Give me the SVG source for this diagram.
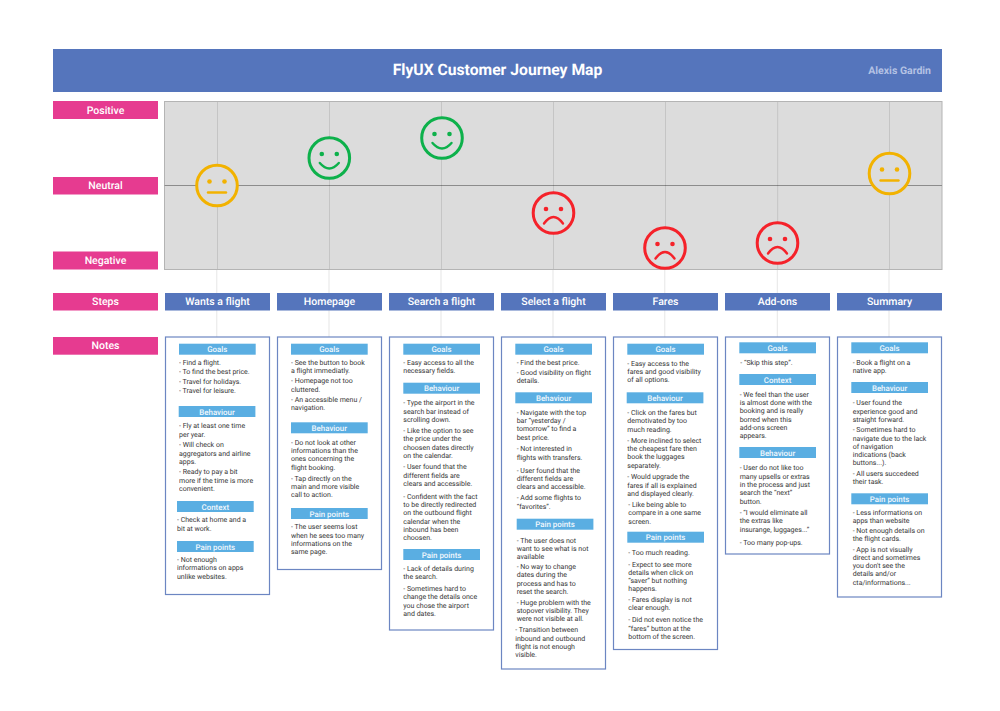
<svg xmlns="http://www.w3.org/2000/svg" width="1000" height="711" viewBox="0 0 1000 711">
<style>
text{font-family:Roboto,"Liberation Sans",sans-serif;text-rendering:geometricPrecision}
.hd{fill:#5575bc}
.lb{fill:#e63b90}
.st{fill:#5575bc}
.card{fill:#fff;stroke:#6c86c2;stroke-width:1.2}
.sec{fill:#5aaee2}
.w{fill:#fff;font-weight:500;text-anchor:middle;font-size:10.5px}
.s{fill:#f2f8fd;font-weight:500;text-anchor:middle;font-size:7.9px}
.t{fill:#333;font-size:7px;opacity:.98}
.conn{stroke:#000;stroke-opacity:.1;stroke-width:1;fill:none}
.eye{stroke:none;fill:currentColor}
.f{stroke-width:3;fill:#dcdcdc}
.m{stroke-width:2.4;fill:none;stroke-linecap:round}
.y{stroke:#f2b200;color:#f2b200}
.g{stroke:#0db14b;color:#0db14b}
.r{stroke:#f5222a;color:#f5222a}
</style>
<defs>
<g id="neu"><circle class="f" r="20.300"/><circle class="eye" cx="-7.500" cy="-4" r="2.300"/><circle class="eye" cx="7.500" cy="-4" r="2.300"/><path class="m" d="M-9 7H9"/></g>
<g id="hap"><circle class="f" r="20.300"/><circle class="eye" cx="-7.500" cy="-4" r="2.300"/><circle class="eye" cx="7.500" cy="-4" r="2.300"/><path class="m" d="M-9.500 5Q0 16 9.500 5"/></g>
<g id="sad"><circle class="f" r="20.300"/><circle class="eye" cx="-7.500" cy="-4" r="2.300"/><circle class="eye" cx="7.500" cy="-4" r="2.300"/><path class="m" d="M-9.500 10.500Q0 -2.500 9.500 10.500"/></g>
</defs>
<rect width="1000" height="711" fill="#fff"/>
<g id="header"><rect class="hd" x="53" y="49" width="889" height="43"/>
<text x="497.500" y="75" fill="#fff" font-size="15.700" font-weight="700" text-anchor="middle">FlyUX Customer Journey Map</text>
<text x="931" y="74" fill="#b4c2e4" font-size="10.500" font-weight="700" text-anchor="end">Alexis Gardin</text></g>
<g id="chart"><rect x="164.500" y="101.500" width="777.500" height="168" fill="#dcdcdc" stroke="#b4b4b4"/><path d="M164.500 185.500H942" stroke="#8c8c8c" stroke-width="1"/></g>
<g id="connectors" class="conn"><path d="M217.500 102V269M329.500 102V269M441.500 102V269M553.500 102V269M665.500 102V269M777.700 102V269M889.500 102V269M216.800 270V337M329 270V337M441 270V337M553 270V337M664.800 270V337M777.300 270V337M889 270V337"/></g>
<g id="row-labels">
<g id="label-positive"><rect class="lb" x="53" y="101" width="105" height="18"/><text class="w" x="105.500" y="113.700">Positive</text></g>
<g id="label-neutral"><rect class="lb" x="53" y="177" width="105" height="17.500"/><text class="w" x="105.500" y="189">Neutral</text></g>
<g id="label-negative"><rect class="lb" x="53" y="251.500" width="105" height="18"/><text class="w" x="105.500" y="264.200">Negative</text></g>
<g id="label-steps"><rect class="lb" x="53" y="293" width="105" height="17.500"/><text class="w" x="105.500" y="305">Steps</text></g>
<g id="label-notes"><rect class="lb" x="53" y="337" width="105" height="17.700"/><text class="w" x="105.500" y="349">Notes</text></g>
</g>
<g id="faces">
<use id="face-1" href="#neu" class="y" x="217" y="185.500"/>
<use id="face-2" href="#hap" class="g" x="329.300" y="158"/>
<use id="face-3" href="#hap" class="g" x="442" y="138"/>
<use id="face-4" href="#sad" class="r" x="553.500" y="213"/>
<use id="face-5" href="#sad" class="r" x="665" y="248"/>
<use id="face-6" href="#sad" class="r" x="777.500" y="243"/>
<use id="face-7" href="#neu" class="y" x="889.500" y="173.500"/>
</g>
<g id="steps">
<g id="step-1"><rect class="st" x="165" y="293" width="105" height="17.500"/><text class="w" x="217.500" y="305">Wants a flight</text></g>
<g id="step-2"><rect class="st" x="277" y="293" width="105" height="17.500"/><text class="w" x="329.500" y="305">Homepage</text></g>
<g id="step-3"><rect class="st" x="389" y="293" width="105" height="17.500"/><text class="w" x="441.500" y="305">Search a flight</text></g>
<g id="step-4"><rect class="st" x="501" y="293" width="105" height="17.500"/><text class="w" x="553.500" y="305">Select a flight</text></g>
<g id="step-5"><rect class="st" x="613" y="293" width="105" height="17.500"/><text class="w" x="665.500" y="305">Fares</text></g>
<g id="step-6"><rect class="st" x="725" y="293" width="105" height="17.500"/><text class="w" x="777.500" y="305">Add-ons</text></g>
<g id="step-7"><rect class="st" x="837" y="293" width="105" height="17.500"/><text class="w" x="889.500" y="305">Summary</text></g>
</g>
<g id="notes">
<g id="note-1"><rect class="card" x="165.500" y="337" width="104" height="257.500"/>
<rect class="sec" x="179" y="343.700" width="76.700" height="11"/><text class="s" x="217.300" y="352">Goals</text>
<g class="t"><text x="179" y="364.600">- Find a flight.</text><text x="179" y="374.300">- To find the best price.</text><text x="179" y="383.900">- Travel for holidays.</text><text x="179" y="393.300">- Travel for leisure.</text></g>
<rect class="sec" x="178.700" y="406" width="76.700" height="11"/><text class="s" x="217" y="414.500">Behaviour</text>
<g class="t"><text x="179" y="428.300">- Fly at least one time</text><text x="179" y="436.600">per year.</text><text x="179" y="447.300">- Will check on</text><text x="179" y="455.600">aggregators and airline</text><text x="179" y="463.900">apps.</text><text x="179" y="474.300">- Ready to pay a bit</text><text x="179" y="482.600">more if the time is more</text><text x="179" y="490.900">convenient.</text></g>
<rect class="sec" x="177" y="501" width="76.700" height="11"/><text class="s" x="215.300" y="509.500">Context</text>
<g class="t"><text x="177" y="522.300">- Check at home and a</text><text x="177" y="530.600">bit at work.</text></g>
<rect class="sec" x="177" y="541" width="76.700" height="11"/><text class="s" x="215.300" y="549.500">Pain points</text>
<g class="t"><text x="177" y="561.900">- Not enough</text><text x="177" y="570.300">informations on apps</text><text x="177" y="578.600">unlike websites.</text></g></g>
<g id="note-2"><rect class="card" x="277.500" y="337" width="104" height="232.500"/>
<rect class="sec" x="291" y="343.700" width="76.700" height="11"/><text class="s" x="329.300" y="352">Goals</text>
<g class="t"><text x="291" y="364.600">- See the button to book</text><text x="291" y="372.900">a flight immediatly.</text><text x="291" y="383.300">- Homepage not too</text><text x="291" y="391.600">cluttered.</text><text x="291" y="401.600">- An accessible menu /</text><text x="291" y="409.900">navigation.</text></g>
<rect class="sec" x="291" y="422.300" width="76.700" height="11"/><text class="s" x="329.300" y="431">Behaviour</text>
<g class="t"><text x="291" y="444.600">- Do not look at other</text><text x="291" y="452.900">informations than the</text><text x="291" y="461.300">ones concerning the</text><text x="291" y="469.600">flight booking.</text><text x="291" y="480.600">- Tap directly on the</text><text x="291" y="488.900">main and more visible</text><text x="291" y="497.300">call to action.</text></g>
<rect class="sec" x="291" y="508" width="76.700" height="11"/><text class="s" x="329.300" y="516.700">Pain points</text>
<g class="t"><text x="291" y="529.300">- The user seems lost</text><text x="291" y="537.600">when he sees too many</text><text x="291" y="545.900">informations on the</text><text x="291" y="554.300">same page.</text></g></g>
<g id="note-3"><rect class="card" x="389.500" y="337" width="104" height="293"/>
<rect class="sec" x="403.300" y="343.700" width="76.700" height="11"/><text class="s" x="441.600" y="352">Goals</text>
<g class="t"><text x="403.300" y="364.900">- Easy access to all the</text><text x="403.300" y="373.300">necessary fields.</text></g>
<rect class="sec" x="403.300" y="382.700" width="76.700" height="11"/><text class="s" x="441.600" y="391.200">Behaviour</text>
<g class="t"><text x="403.300" y="405.300">- Type the airport in the</text><text x="403.300" y="413.600">search bar instead of</text><text x="403.300" y="421.900">scrolling down.</text><text x="403.300" y="432.900">- Like the option to see</text><text x="403.300" y="441.300">the price under the</text><text x="403.300" y="449.600">choosen dates directly</text><text x="403.300" y="457.900">on the calendar.</text><text x="403.300" y="469.300">- User found that the</text><text x="403.300" y="477.600">different fields are</text><text x="403.300" y="485.900">clears and accessible.</text><text x="403.300" y="498.600">- Confident with the fact</text><text x="403.300" y="506.900">to be directly redirected</text><text x="403.300" y="515.300">on the outbound flight</text><text x="403.300" y="523.600">calendar when the</text><text x="403.300" y="531.900">inbound has been</text><text x="403.300" y="539.900">choosen.</text></g>
<rect class="sec" x="403.300" y="549" width="76.700" height="11"/><text class="s" x="441.600" y="557.500">Pain points</text>
<g class="t"><text x="403.300" y="570.600">- Lack of details during</text><text x="403.300" y="578.900">the search.</text><text x="403.300" y="590.900">- Sometimes hard to</text><text x="403.300" y="599.300">change the details once</text><text x="403.300" y="607.600">you chose the airport</text><text x="403.300" y="615.900">and dates.</text></g></g>
<g id="note-4"><rect class="card" x="501.500" y="337" width="104" height="332"/>
<rect class="sec" x="515.300" y="343.700" width="76.700" height="11"/><text class="s" x="553.600" y="352">Goals</text>
<g class="t"><text x="516.700" y="364.900">- Find the best price.</text><text x="516.700" y="374.900">- Good visibility on flight</text><text x="516.700" y="383.300">details.</text></g>
<rect class="sec" x="515.300" y="392.300" width="76.700" height="11"/><text class="s" x="553.600" y="400.800">Behaviour</text>
<g class="t"><text x="516.700" y="414.900">- Navigate with the top</text><text x="516.700" y="423.300">bar “yesterday /</text><text x="516.700" y="431.300">tomorrow” to find a</text><text x="516.700" y="439.600">best price.</text><text x="516.700" y="451.300">- Not interested in</text><text x="516.700" y="459.600">flights with transfers.</text><text x="516.700" y="472.600">- User found that the</text><text x="516.700" y="480.900">different fields are</text><text x="516.700" y="489.300">clears and accessible.</text><text x="516.700" y="500.300">- Add some flights to</text><text x="516.700" y="508.600">“favorites”.</text></g>
<rect class="sec" x="516.700" y="518.700" width="76.700" height="11"/><text class="s" x="555" y="527.200">Pain points</text>
<g class="t"><text x="516.700" y="542.600">- The user does not</text><text x="516.700" y="550.900">want to see what is not</text><text x="516.700" y="559.300">available</text><text x="516.700" y="569.300">- No way to change</text><text x="516.700" y="577.300">dates during the</text><text x="516.700" y="585.600">process and has to</text><text x="516.700" y="593.600">reset the search.</text><text x="516.700" y="604.600">- Huge problem with the</text><text x="516.700" y="612.900">stopover visibility. They</text><text x="516.700" y="621.300">were not visible at all.</text><text x="515.300" y="632.300">- Transition between</text><text x="515.300" y="640.600">inbound and outbound</text><text x="515.300" y="648.900">flight is not enough</text><text x="515.300" y="657.300">visible.</text></g></g>
<g id="note-5"><rect class="card" x="613.500" y="337" width="104" height="312.500"/>
<rect class="sec" x="627.300" y="343.700" width="76.700" height="11"/><text class="s" x="665.600" y="352">Goals</text>
<g class="t"><text x="627.300" y="365.600">- Easy access to the</text><text x="627.300" y="373.900">fares and good visibility</text><text x="627.300" y="381.900">of all options.</text></g>
<rect class="sec" x="626.700" y="392.300" width="76.700" height="11"/><text class="s" x="665" y="400.800">Behaviour</text>
<g class="t"><text x="627.300" y="414.900">- Click on the fares but</text><text x="627.300" y="423.300">demotivated by too</text><text x="627.300" y="431.600">much reading.</text><text x="627.300" y="442.600">- More inclined to select</text><text x="627.300" y="450.900">the cheapest fare then</text><text x="627.300" y="459.300">book the luggages</text><text x="627.300" y="467.600">separately.</text><text x="627.300" y="479.300">- Would upgrade the</text><text x="627.300" y="487.600">fares if all is explained</text><text x="627.300" y="495.900">and displayed clearly.</text><text x="628.300" y="506.900">- Like being able to</text><text x="628.300" y="515.300">compare in a one same</text><text x="628.300" y="523.600">screen.</text></g>
<rect class="sec" x="627.300" y="531.700" width="76.700" height="11"/><text class="s" x="665.600" y="540.200">Pain points</text>
<g class="t"><text x="628.300" y="555.300">- Too much reading.</text><text x="628.300" y="566.600">- Expect to see more</text><text x="628.300" y="574.600">details when click on</text><text x="628.300" y="582.900">“saver” but nothing</text><text x="628.300" y="591.300">happens.</text><text x="628.300" y="601.900">- Fares display is not</text><text x="628.300" y="610.300">clear enough.</text><text x="628.300" y="622.300">- Did not even notice the</text><text x="628.300" y="630.600">“fares” button at the</text><text x="628.300" y="638.900">bottom of the screen.</text></g></g>
<g id="note-6"><rect class="card" x="725.500" y="337" width="104" height="217"/>
<rect class="sec" x="739.300" y="342.300" width="76.700" height="11"/><text class="s" x="777.600" y="350.800">Goals</text>
<g class="t"><text x="740.300" y="364.900">- “Skip this step”.</text></g>
<rect class="sec" x="739.300" y="374" width="76.700" height="11"/><text class="s" x="777.600" y="382.500">Context</text>
<g class="t"><text x="739.700" y="396.600">- We feel than the user</text><text x="739.700" y="404.900">is almost done with the</text><text x="739.700" y="413.300">booking and is really</text><text x="739.700" y="421.600">borred when this</text><text x="739.700" y="429.600">add-ons screen</text><text x="739.700" y="437.900">appears.</text></g>
<rect class="sec" x="739.300" y="447" width="76.700" height="11"/><text class="s" x="777.600" y="455.500">Behaviour</text>
<g class="t"><text x="739.700" y="470.300">- User do not like too</text><text x="739.700" y="478.600">many upsells or extras</text><text x="739.700" y="486.900">in the process and just</text><text x="739.700" y="495.300">search the “next”</text><text x="739.700" y="503.600">button.</text><text x="739.700" y="515.300">- “I would eliminate all</text><text x="739.700" y="523.300">the extras like</text><text x="739.700" y="531.600">insurange, luggages...”</text><text x="739.700" y="545.300">- Too many pop-ups.</text></g></g>
<g id="note-7"><rect class="card" x="837.500" y="337" width="104" height="260"/>
<rect class="sec" x="851.300" y="342.300" width="76.700" height="11"/><text class="s" x="889.600" y="350.800">Goals</text>
<g class="t"><text x="852.700" y="364.900">- Book a flight on a</text><text x="852.700" y="373.300">native app.</text></g>
<rect class="sec" x="851.300" y="382" width="76.700" height="11"/><text class="s" x="889.600" y="390.500">Behaviour</text>
<g class="t"><text x="852.700" y="405.300">- User found the</text><text x="852.700" y="413.600">experience good and</text><text x="852.700" y="421.900">straight forward.</text><text x="852.700" y="432.300">- Sometimes hard to</text><text x="852.700" y="440.600">navigate due to the lack</text><text x="852.700" y="448.900">of navigation</text><text x="852.700" y="456.900">indications (back</text><text x="852.700" y="465.300">buttons...).</text><text x="852.700" y="475.600">- All users succedeed</text><text x="852.700" y="483.900">their task.</text></g>
<rect class="sec" x="851.300" y="493.300" width="76.700" height="11"/><text class="s" x="889.600" y="501.800">Pain points</text>
<g class="t"><text x="852.700" y="514.900">- Less informations on</text><text x="852.700" y="523.300">apps than website</text><text x="852.700" y="532.900">- Not enough details on</text><text x="852.700" y="541.300">the flight cards.</text><text x="852.700" y="551.900">- App is not visually</text><text x="852.700" y="559.900">direct and sometimes</text><text x="852.700" y="568.300">you don't see the</text><text x="852.700" y="576.300">details and/or</text><text x="852.700" y="584.600">cta/informations...</text></g></g>
</g>
</svg>
